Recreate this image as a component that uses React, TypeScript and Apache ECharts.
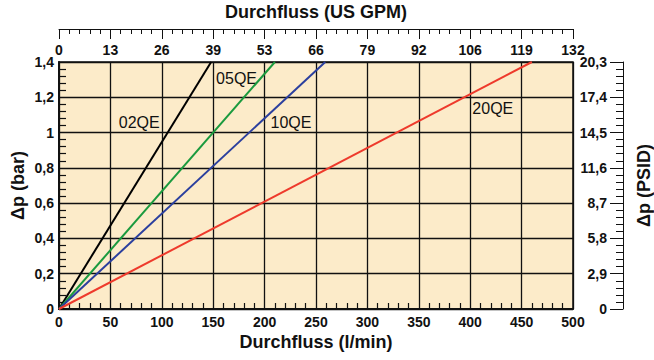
import React, { useEffect, useRef } from "react";
import * as echarts from "echarts";

// Data: straight characteristic lines from the origin (l/min, bar)
const line02QE: [number, number][] = [[0, 0], [148, 1.4]];
const line05QE: [number, number][] = [[0, 0], [210, 1.4]];
const line10QE: [number, number][] = [[0, 0], [259, 1.4]];
const line20QE: [number, number][] = [[0, 0], [460, 1.4]];
const seriesNames = ["02QE", "05QE", "10QE", "20QE"];

// Tick labels
const flowLabels = ["0", "50", "100", "150", "200", "250", "300", "350", "400", "450", "500"];
const gpmLabels = ["0", "13", "26", "39", "53", "66", "79", "92", "106", "119", "132"];
const barLabels = ["0", "0,2", "0,4", "0,6", "0,8", "1", "1,2", "1,4"];
const psidLabels = ["0", "2,9", "5,8", "8,7", "11,6", "14,5", "17,4", "20,3"];

// Layout: where each line's name sits (data coords)
const labelAnchors: [number, number][] = [[78, 1.056], [172.7, 1.304], [225.7, 1.056], [422, 1.138]];
const colors = ["#000000", "#1a9a3e", "#2b3f9e", "#ee3a2c"];

const tickFont = '"Liberation Sans", Arial, sans-serif';
const titleFont = '"Liberation Sans", Arial, sans-serif';

export default function App() {
  const ref = useRef<HTMLDivElement>(null);
  useEffect(() => {
    if (!ref.current) return;
    const chart = echarts.init(ref.current, undefined, { renderer: "svg" });
    const tickLabel = { fontFamily: tickFont, fontWeight: "bold" as const, fontSize: 14, color: "#111" };
    const nameStyle = { fontFamily: titleFont, fontWeight: "bold" as const, fontSize: 18, color: "#111" };
    const allData = [line02QE, line05QE, line10QE, line20QE];
    const gridBase = { containLabel: false, outerBoundsMode: "none" };
    const hidden = { show: false, axisLine: { show: false }, axisTick: { show: false }, axisLabel: { show: false }, splitLine: { show: false } };
    chart.setOption({
      animation: false,
      backgroundColor: "#ffffff",
      grid: [
        {
          ...gridBase, left: 59, right: 81, top: 62, bottom: 51,
          show: true, backgroundColor: "#fcebc9", borderColor: "#111", borderWidth: 1.5,
        },
        { ...gridBase, left: 59, right: 31, top: 62, bottom: 51, show: false },
        { ...gridBase, left: 59, right: 81, top: 29, bottom: 51, show: false },
      ],
      xAxis: [
        {
          gridIndex: 0, type: "value", position: "bottom", min: 0, max: 500, interval: 50,
          name: "Durchfluss (l/min)", nameLocation: "middle", nameGap: 24, nameTextStyle: nameStyle, nameMoveOverlap: false,
          axisLine: { show: true, onZero: false, lineStyle: { color: "#111", width: 2 } },
          axisTick: { show: true, inside: true, length: 6, lineStyle: { color: "#111" } },
          minorTick: { show: true, splitNumber: 5, length: 6, lineStyle: { color: "#111", width: 1.2 } },
          axisLabel: { ...tickLabel, margin: 6, formatter: (v: number) => flowLabels[Math.round(v / 50)] },
          splitLine: { show: true, lineStyle: { color: "#111", width: 1.3 } },
        },
        {
          gridIndex: 2, type: "value", position: "top", min: 0, max: 500, interval: 50,
          name: "Durchfluss (US GPM)", nameLocation: "middle", nameGap: 8, nameTextStyle: nameStyle, nameMoveOverlap: false,
          axisLine: { show: true, onZero: false, lineStyle: { color: "#111", width: 1 } },
          axisTick: { show: true, inside: true, length: 10, lineStyle: { color: "#111" } },
          minorTick: { show: true, splitNumber: 5, length: 5, lineStyle: { color: "#111" } },
          axisLabel: { ...tickLabel, inside: true, margin: 14, formatter: (v: number) => gpmLabels[Math.round(v / 50)] },
          splitLine: { show: false },
        },
        { gridIndex: 1, type: "value", min: 0, max: 1, ...hidden },
      ],
      yAxis: [
        {
          gridIndex: 0, type: "value", position: "left", min: 0, max: 1.4, interval: 0.2,
          name: "Δp (bar)", nameLocation: "middle", nameGap: 32, nameTextStyle: nameStyle, nameMoveOverlap: false,
          axisLine: { show: true, onZero: false, lineStyle: { color: "#111", width: 2 } },
          axisTick: { show: true, inside: true, length: 7, lineStyle: { color: "#111" } },
          minorTick: { show: true, splitNumber: 5, length: 7, lineStyle: { color: "#111", width: 1.2 } },
          axisLabel: { ...tickLabel, margin: 5, formatter: (v: number) => barLabels[Math.round(v / 0.2)] },
          splitLine: { show: true, lineStyle: { color: "#111", width: 1.3 } },
        },
        {
          gridIndex: 1, type: "value", position: "right", min: 0, max: 1.4, interval: 0.2,
          name: "Δp (PSID)", nameLocation: "middle", nameGap: 12, nameTextStyle: nameStyle, nameMoveOverlap: false,
          axisLine: { show: true, onZero: false, lineStyle: { color: "#111", width: 1 } },
          axisTick: { show: true, inside: true, length: 13, lineStyle: { color: "#111" } },
          minorTick: { show: true, splitNumber: 5, length: 7, lineStyle: { color: "#111" } },
          axisLabel: { ...tickLabel, inside: true, margin: 16, formatter: (v: number) => psidLabels[Math.round(v / 0.2)] },
          splitLine: { show: false },
        },
        { gridIndex: 2, type: "value", min: 0, max: 1, ...hidden },
      ],
      series: seriesNames.map((name, i) => ({
        name, type: "line", xAxisIndex: 0, yAxisIndex: 0,
        data: allData[i], showSymbol: false, symbol: "none",
        lineStyle: { color: colors[i], width: 2 },
        z: 5,
        markPoint: {
          symbol: "circle", symbolSize: 0,
          data: [{ coord: labelAnchors[i], value: name }],
          label: {
            show: true, position: "inside", formatter: name,
            fontFamily: titleFont, fontSize: 16, fontWeight: "normal", color: "#111",
          },
        },
      })),
    });
    return () => chart.dispose();
  }, []);
  return <div ref={ref} style={{ position: "fixed", left: 0, top: 0, width: 654, height: 360 }} />;
}
